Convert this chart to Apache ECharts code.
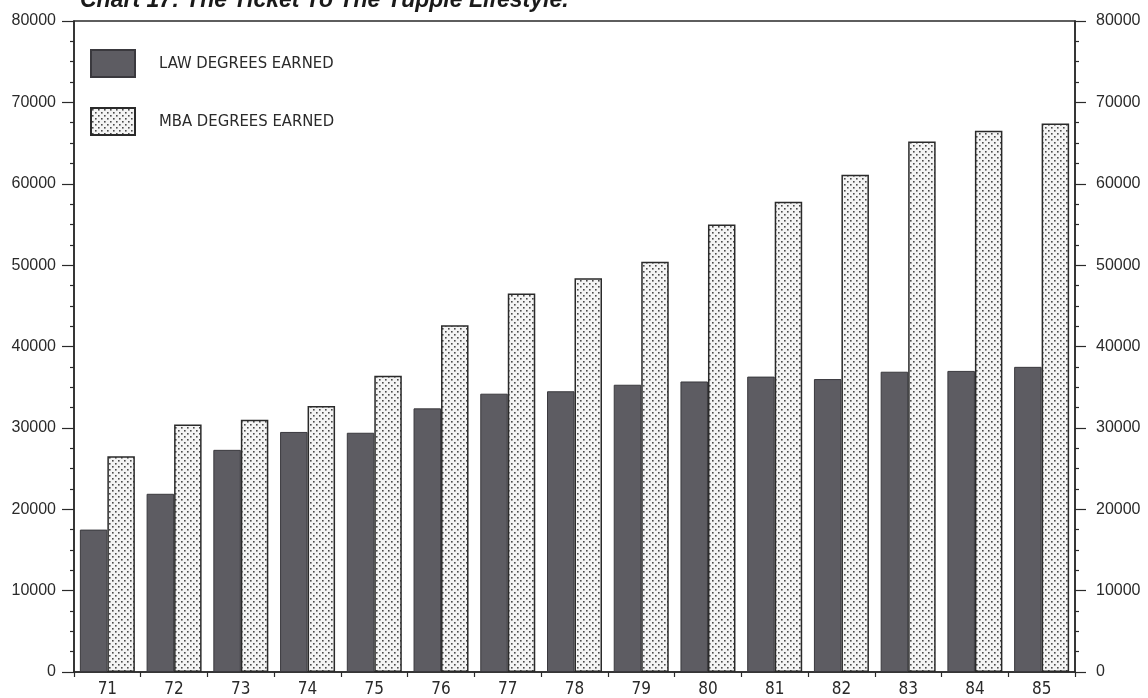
<!DOCTYPE html>
<html>
<head>
<meta charset="utf-8">
<script src="https://cdn.jsdelivr.net/npm/echarts@6/dist/echarts.min.js"></script>
<style>
html,body{margin:0;padding:0;background:#fff;}
#chart{width:1148px;height:698px;}
</style>
</head>
<body>
<div id="chart"></div>
<script>
const categories = ['71','72','73','74','75','76','77','78','79','80','81','82','83','84','85'];
const lawDegrees = [17500,21900,27300,29500,29400,32400,34200,34500,35300,35700,36300,36000,36900,37000,37500];
const mbaDegrees = [26500,30400,31000,32700,36400,42600,46500,48400,50400,55000,57800,61100,65200,66500,67400];
const yTicks = [0,10000,20000,30000,40000,50000,60000,70000,80000];
const seriesNames = ['LAW DEGREES EARNED','MBA DEGREES EARNED'];
const titleText = 'Chart 17: The Ticket To The Yuppie Lifestyle.';

// dot pattern for MBA bars
const pc = document.createElement('canvas');
pc.width = 6; pc.height = 6;
const g = pc.getContext('2d');
g.fillStyle = '#f4f4f4'; g.fillRect(0,0,6,6);
g.fillStyle = '#4a4a4a';
g.fillRect(1,1,1.6,1.6);
g.fillRect(4,4,1.6,1.6);

const plotterFont = "'Liberation Sans Narrow','DejaVu Sans Condensed',sans-serif";

const chart = echarts.init(document.getElementById('chart'), null, {renderer:'canvas'});
chart.setOption({
  animation: false,
  backgroundColor: '#ffffff',
  graphic: [{
    type: 'text', left: 80, top: -11,
    style: { text: titleText, font: 'italic bold 23px "Liberation Sans", Arial, sans-serif', fill: '#1a1a1a' }
  }],
  legend: {
    orient: 'vertical', left: 90, top: 49, padding: 0,
    itemWidth: 44, itemHeight: 27, itemGap: 29,
    icon: 'rect',
    data: seriesNames,
    textStyle: { fontFamily: plotterFont, fontSize: 16.5, color: '#2a2a2a', padding: [0,0,0,19] }
  },
  grid: { left: 74, right: 73, top: 21, bottom: 22.5, show: true, borderColor: '#2a2a2a', borderWidth: 1.5, containLabel: false },
  xAxis: {
    type: 'category', data: categories,
    axisLine: { lineStyle: { color: '#2a2a2a', width: 1.5 } },
    axisTick: { show: true, length: 5, lineStyle: { color: '#2a2a2a', width: 1.2 } },
    axisLabel: { margin: 9, fontFamily: plotterFont, fontSize: 17, color: '#2a2a2a' }
  },
  yAxis: [{
    type: 'value', min: 0, max: 80000, interval: 10000, position: 'left',
    axisLine: { show: true, lineStyle: { color: '#2a2a2a', width: 1.5 } },
    axisTick: { show: true, length: 12, lineStyle: { color: '#2a2a2a', width: 1.2 } },
    minorTick: { show: true, splitNumber: 4, length: 4, lineStyle: { color: '#2a2a2a', width: 1.2 } },
    splitLine: { show: false },
    axisLabel: { margin: 18, fontFamily: "'Liberation Sans', Arial, sans-serif", fontSize: 16, color: '#2a2a2a',
      formatter: v => yTicks.includes(v) ? String(v) : '' }
  },{
    type: 'value', min: 0, max: 80000, interval: 10000, position: 'right',
    axisLine: { show: true, lineStyle: { color: '#2a2a2a', width: 1.5 } },
    axisTick: { show: true, length: 11, lineStyle: { color: '#2a2a2a', width: 1.2 } },
    minorTick: { show: true, splitNumber: 4, length: 4, lineStyle: { color: '#2a2a2a', width: 1.2 } },
    splitLine: { show: false },
    axisLabel: { margin: 21, fontFamily: "'Liberation Sans', Arial, sans-serif", fontSize: 16, color: '#2a2a2a',
      formatter: v => yTicks.includes(v) ? String(v) : '' }
  }],
  series: [{
    name: seriesNames[0], type: 'bar', data: lawDegrees, yAxisIndex: 0,
    barWidth: 27.5, barGap: '0%',
    itemStyle: { color: '#5d5c62', borderColor: '#3a393e', borderWidth: 1 }
  },{
    name: seriesNames[1], type: 'bar', data: mbaDegrees, yAxisIndex: 0,
    barWidth: 27.5, barGap: '0%',
    itemStyle: { color: { image: pc, repeat: 'repeat' }, borderColor: '#2a2a2a', borderWidth: 1.5 }
  }]
});
</script>
</body>
</html>
